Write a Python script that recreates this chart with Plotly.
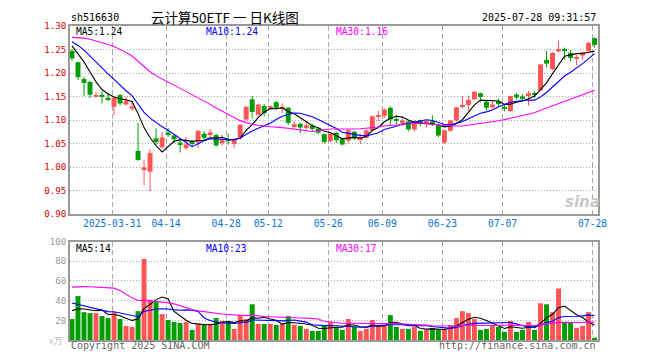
import plotly.graph_objects as go
import pandas as pd

# ---------------- data ----------------
dates = [
    "2025-03-20", "2025-03-21", "2025-03-24", "2025-03-25", "2025-03-26", "2025-03-27", "2025-03-28", "2025-03-31",
    "2025-04-01", "2025-04-02", "2025-04-03", "2025-04-07", "2025-04-08", "2025-04-09", "2025-04-10", "2025-04-11",
    "2025-04-14", "2025-04-15", "2025-04-16", "2025-04-17", "2025-04-18", "2025-04-21", "2025-04-22", "2025-04-23",
    "2025-04-24", "2025-04-25", "2025-04-28", "2025-04-29", "2025-04-30",
    "2025-05-06", "2025-05-07", "2025-05-08", "2025-05-09", "2025-05-12", "2025-05-13", "2025-05-14", "2025-05-15",
    "2025-05-16", "2025-05-19", "2025-05-20", "2025-05-21", "2025-05-22", "2025-05-23", "2025-05-26", "2025-05-27",
    "2025-05-28", "2025-05-29", "2025-05-30",
    "2025-06-03", "2025-06-04", "2025-06-05", "2025-06-06", "2025-06-09", "2025-06-10", "2025-06-11", "2025-06-12",
    "2025-06-13", "2025-06-16", "2025-06-17", "2025-06-18", "2025-06-19", "2025-06-20", "2025-06-23", "2025-06-24",
    "2025-06-25", "2025-06-26", "2025-06-27", "2025-06-30",
    "2025-07-01", "2025-07-02", "2025-07-03", "2025-07-04", "2025-07-07", "2025-07-08", "2025-07-09", "2025-07-10",
    "2025-07-11", "2025-07-14", "2025-07-15", "2025-07-16", "2025-07-17", "2025-07-18", "2025-07-21", "2025-07-22",
    "2025-07-23", "2025-07-24", "2025-07-25", "2025-07-28",
]

opens = [1.247, 1.223, 1.187, 1.181, 1.149, 1.151, 1.147, 1.128, 1.153, 1.133, 1.124, 1.034, 0.995, 0.990, 1.061,
         1.042, 1.073, 1.067, 1.052, 1.040, 1.053, 1.052, 1.071, 1.068, 1.068, 1.053, 1.059, 1.049, 1.062, 1.101,
         1.144, 1.111, 1.130, 1.126, 1.138, 1.125, 1.126, 1.087, 1.092, 1.085, 1.088, 1.082, 1.070, 1.055, 1.073,
         1.060, 1.056, 1.075, 1.059, 1.062, 1.078, 1.107, 1.109, 1.126, 1.101, 1.094, 1.097, 1.080, 1.100, 1.091,
         1.097, 1.088, 1.052, 1.077, 1.099, 1.129, 1.132, 1.144, 1.157, 1.139, 1.127, 1.140, 1.126, 1.119, 1.154,
         1.150, 1.151, 1.157, 1.163, 1.228, 1.208, 1.246, 1.249, 1.243, 1.231, 1.237, 1.247, 1.274]
highs = [1.251, 1.224, 1.192, 1.183, 1.160, 1.161, 1.157, 1.149, 1.155, 1.150, 1.141, 1.094, 1.016, 1.038, 1.082,
         1.075, 1.083, 1.070, 1.059, 1.064, 1.057, 1.078, 1.077, 1.081, 1.071, 1.069, 1.071, 1.061, 1.091, 1.130,
         1.151, 1.135, 1.134, 1.130, 1.140, 1.136, 1.128, 1.097, 1.094, 1.096, 1.092, 1.084, 1.071, 1.072, 1.075,
         1.062, 1.080, 1.077, 1.071, 1.080, 1.109, 1.119, 1.125, 1.129, 1.111, 1.108, 1.099, 1.099, 1.101, 1.101,
         1.110, 1.091, 1.079, 1.100, 1.128, 1.151, 1.151, 1.162, 1.158, 1.141, 1.140, 1.146, 1.133, 1.152, 1.157,
         1.155, 1.162, 1.162, 1.219, 1.247, 1.244, 1.269, 1.254, 1.249, 1.238, 1.246, 1.266, 1.276]
lows = [1.226, 1.185, 1.151, 1.147, 1.148, 1.135, 1.140, 1.110, 1.131, 1.131, 1.119, 1.013, 0.961, 0.948, 1.047,
        1.039, 1.064, 1.050, 1.031, 1.037, 1.044, 1.040, 1.057, 1.063, 1.043, 1.045, 1.047, 1.041, 1.058, 1.099,
        1.103, 1.110, 1.108, 1.121, 1.122, 1.115, 1.089, 1.083, 1.072, 1.077, 1.077, 1.069, 1.050, 1.052, 1.051,
        1.046, 1.050, 1.057, 1.049, 1.060, 1.077, 1.098, 1.104, 1.089, 1.091, 1.087, 1.076, 1.076, 1.087, 1.083,
        1.087, 1.064, 1.049, 1.075, 1.096, 1.124, 1.120, 1.143, 1.138, 1.120, 1.124, 1.130, 1.118, 1.117, 1.144,
        1.140, 1.131, 1.147, 1.161, 1.212, 1.206, 1.244, 1.229, 1.225, 1.216, 1.228, 1.246, 1.254]
closes = [1.231, 1.191, 1.179, 1.154, 1.151, 1.149, 1.143, 1.148, 1.135, 1.141, 1.129, 1.015, 0.999, 1.030, 1.053,
          1.063, 1.068, 1.059, 1.048, 1.048, 1.050, 1.077, 1.062, 1.074, 1.046, 1.057, 1.056, 1.059, 1.090, 1.128,
          1.117, 1.133, 1.115, 1.128, 1.126, 1.128, 1.094, 1.091, 1.084, 1.089, 1.081, 1.073, 1.053, 1.071, 1.057,
          1.048, 1.078, 1.061, 1.063, 1.078, 1.108, 1.110, 1.122, 1.101, 1.099, 1.099, 1.080, 1.097, 1.092, 1.098,
          1.092, 1.067, 1.078, 1.099, 1.127, 1.132, 1.143, 1.160, 1.149, 1.126, 1.133, 1.134, 1.124, 1.151, 1.148,
          1.145, 1.157, 1.155, 1.218, 1.220, 1.243, 1.251, 1.247, 1.232, 1.233, 1.244, 1.264, 1.260]
# volume in units of 10,000 lots
volumes = [21.3, 44.6, 28.3, 27.3, 27.3, 24.3, 22.3, 28.3, 21.3, 14.3, 13.3, 29.3, 82.3, 41.0, 39.3, 26.3, 20.3,
           18.3, 17.3, 18.3, 10.3, 16.3, 16.3, 16.3, 22.3, 19.3, 19.3, 11.3, 25.3, 21.3, 36.3, 16.3, 16.3, 16.3,
           15.3, 16.3, 24.3, 15.3, 14.3, 11.3, 9.3, 9.3, 14.3, 18.3, 13.3, 10.3, 21.3, 13.3, 9.3, 11.3, 20.3, 15.3,
           15.3, 25.3, 13.3, 11.3, 11.3, 13.3, 9.3, 10.3, 12.3, 10.3, 11.3, 15.3, 22.3, 29.3, 27.3, 21.3, 10.3,
           11.3, 15.3, 13.3, 8.3, 19.3, 8.3, 10.3, 18.3, 10.3, 37.3, 36.3, 28.3, 52.3, 18.3, 17.3, 12.3, 14.3,
           28.3, 2.3]

# closes / volumes of the 29 sessions before the window (estimated from the MA lines), used only for moving averages
pre_closes = [1.205, 1.215, 1.230, 1.245, 1.255, 1.270, 1.285, 1.310, 1.335, 1.360, 1.372, 1.350, 1.330, 1.300,
              1.285, 1.260, 1.250, 1.245, 1.253, 1.255, 1.270, 1.280, 1.285, 1.275, 1.268, 1.272, 1.268, 1.262, 1.255]
pre_volumes = [30, 28, 32, 35, 30, 38, 40, 95, 130, 120, 110, 70, 60, 55, 48, 50, 47, 80, 72, 65, 60, 45, 40, 42,
               40, 35, 30, 33, 30]

tick_dates = ["2025-03-31", "2025-04-14", "2025-04-28", "2025-05-12", "2025-05-26", "2025-06-09", "2025-06-23",
              "2025-07-07", "2025-07-28"]
tick_labels = ["2025-03-31", "04-14", "04-28", "05-12", "05-26", "06-09", "06-23", "07-07", "07-28"]
price_ticks = [0.90, 0.95, 1.00, 1.05, 1.10, 1.15, 1.20, 1.25, 1.30]
volume_ticks = [20, 40, 60, 80, 100]

symbol = "sh516630"
title_text = "云计算50ETF 一 日K线图"
timestamp = "2025-07-28 09:31:57"
price_ma_labels = ["MA5:1.24", "MA10:1.24", "MA30:1.16"]
volume_ma_labels = ["MA5:14", "MA10:23", "MA30:17"]

# ---------------- styling ----------------
RED = "#ff5555"
GREEN = "#009e00"
MA_COLORS = ["#000000", "#0000ff", "#ff00ff"]
MONO = "DejaVu Sans Mono"
GRID = "#a8a8a8"

n = len(dates)
xs = list(range(n))
up = [c > o for o, c in zip(opens, closes)]

# moving averages
cs = pd.Series(pre_closes + closes)
vs = pd.Series(pre_volumes + volumes)
k = len(pre_closes)
price_mas = [cs.rolling(w).mean().iloc[k:].tolist() for w in (5, 10, 30)]
vol_mas = [vs.rolling(w).mean().iloc[k:].tolist() for w in (5, 10, 30)]

fig = go.Figure()

# wicks
for flag, col in ((True, RED), (False, GREEN)):
    wx, wy = [], []
    for i in xs:
        if up[i] == flag:
            wx += [i, i, None]
            wy += [lows[i], highs[i], None]
    fig.add_trace(go.Scatter(x=wx, y=wy, mode="lines", line=dict(color=col, width=1),
                             xaxis="x", yaxis="y", hoverinfo="skip"))

# bodies
for flag, col in ((True, RED), (False, GREEN)):
    bx = [i for i in xs if up[i] == flag]
    base = [min(opens[i], closes[i]) for i in bx]
    hgt = [max(abs(closes[i] - opens[i]), 0.0022) for i in bx]
    fig.add_trace(go.Bar(x=bx, y=hgt, base=base, width=0.82, marker=dict(color=col, line=dict(width=0)),
                         xaxis="x", yaxis="y"))

# price MAs
for ma, col in zip(price_mas, MA_COLORS):
    fig.add_trace(go.Scatter(x=xs, y=ma, mode="lines", line=dict(color=col, width=1.1),
                             xaxis="x", yaxis="y"))

# volume bars
fig.add_trace(go.Bar(x=xs, y=volumes, width=0.82, marker=dict(color=[RED if u else GREEN for u in up],
                                                               line=dict(width=0)),
                     xaxis="x2", yaxis="y2"))
for ma, col in zip(vol_mas, MA_COLORS):
    fig.add_trace(go.Scatter(x=xs, y=ma, mode="lines", line=dict(color=col, width=1.1),
                             xaxis="x2", yaxis="y2"))

# ---------------- layout ----------------
OFF = 8  # page offset of the figure div (default body margin)
W, H = 652, 352
L, R, T, B = 62, 62, 13, 20
PW, PH = W - L - R, H - T - B


def pxx(x):
    """page x pixel -> paper fraction"""
    return (x - OFF - L) / PW


def pxy(y):
    """page y pixel -> paper fraction"""
    return (H - B - (y - OFF)) / PH


xr = [-0.33, n - 1 + 0.57]
tickpos = [dates.index(d) - 0.33 for d in tick_dates]

axis_common = dict(showline=True, linecolor="#999999", linewidth=1.5, mirror=True, zeroline=False, ticks="")

fig.update_layout(
    width=W, height=H, margin=dict(l=L, r=R, t=T, b=B),
    paper_bgcolor="white", plot_bgcolor="white", showlegend=False, barmode="overlay",
    xaxis=dict(domain=[0, 1], anchor="y", range=xr, tickmode="array", tickvals=tickpos, ticktext=tick_labels,
               showgrid=True, gridcolor=GRID, gridwidth=1, griddash="5px,3px",
               tickfont=dict(family=MONO, size=9.7, color="#0a74d0"), **axis_common),
    xaxis2=dict(domain=[0, 1], anchor="y2", range=xr, tickmode="array", tickvals=tickpos, showticklabels=False,
                showgrid=True, gridcolor=GRID, gridwidth=1, griddash="5px,3px", **axis_common),
    yaxis=dict(domain=[pxy(212), 1], anchor="x", range=[0.90, 1.30], tickmode="array", tickvals=price_ticks,
               ticktext=[f"{v:.2f}" for v in price_ticks], showgrid=True, gridcolor=GRID, gridwidth=1,
               griddash="1px,2px", tickfont=dict(family=MONO, size=9.2, color="#e00000"), **axis_common),
    yaxis2=dict(domain=[0, pxy(240)], anchor="x2", range=[0, 100], tickmode="array", tickvals=volume_ticks,
                ticktext=[str(v) for v in volume_ticks], showgrid=True, gridcolor=GRID, gridwidth=1,
                griddash="1px,2px", tickfont=dict(family=MONO, size=9.2, color="#999999"), **axis_common),
)

ann = []


def add_text(text, x, y, xanchor="left", size=10, color="black", family=MONO):
    ann.append(dict(text=text, x=pxx(x), y=pxy(y), xref="paper", yref="paper", xanchor=xanchor,
                    yanchor="middle", showarrow=False, font=dict(family=family, size=size, color=color)))


add_text(symbol, 69, 12.5, size=10)
add_text(title_text, 149, 11.5, size=13.5, family="Noto Sans CJK SC")
add_text(timestamp, 598, 12.5, xanchor="right", size=10)
for lbl, col, x in zip(price_ma_labels, MA_COLORS, (74, 204, 334)):
    add_text(lbl, x, 27, size=9.6, color=col)
for lbl, col, x in zip(volume_ma_labels, MA_COLORS, (74, 204, 334)):
    add_text(lbl, x, 247, size=9.6, color=col)
add_text("x万", 64, 340, xanchor="right", size=9, color="#bbbbbb", family="Noto Sans CJK SC")
add_text("Copyright 2025 SINA.COM", 69, 346, size=10, color="#666666")
add_text("http://finance.sina.com.cn", 598, 346, xanchor="right", size=10, color="#666666")
add_text("<b><i>sina</i></b>", 582, 200, xanchor="center", size=15, color="#c8c8c8", family="DejaVu Sans")

fig.update_layout(annotations=ann)

fig.write_html("out.html")
